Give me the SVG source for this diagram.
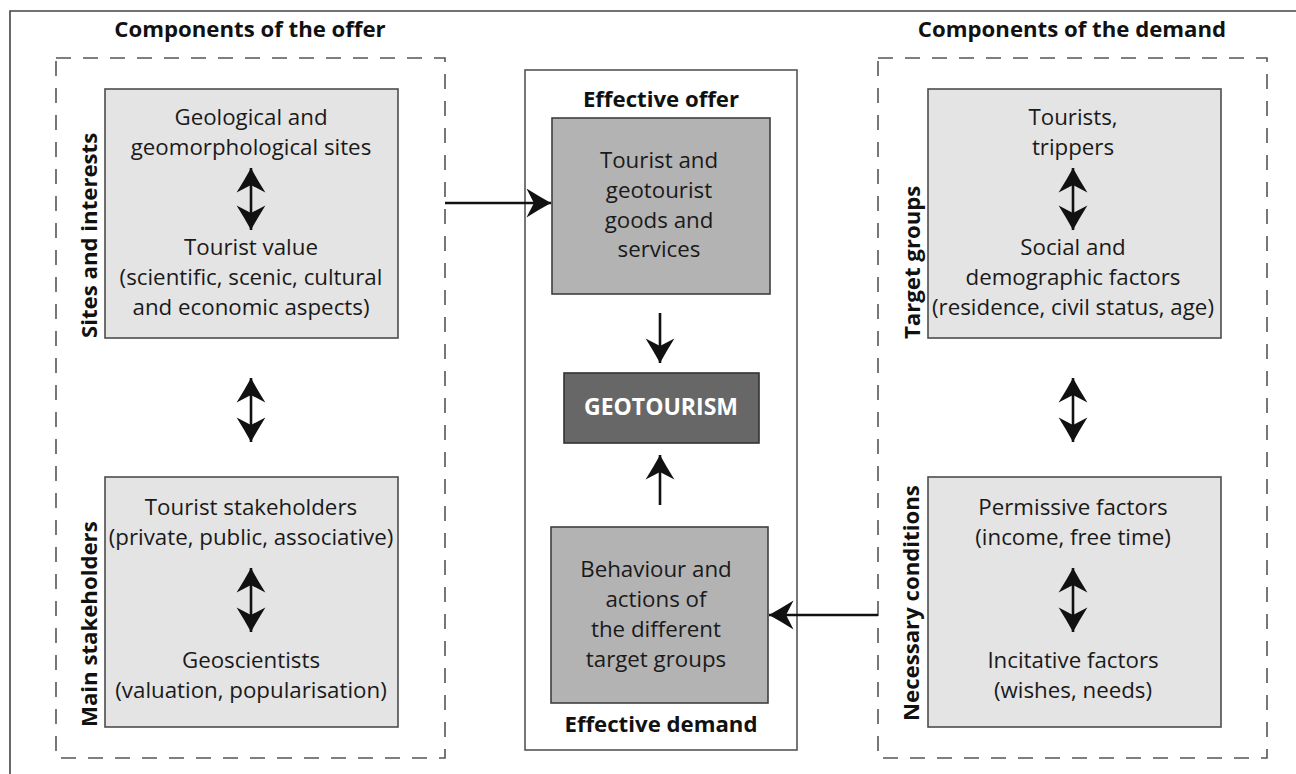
<svg xmlns="http://www.w3.org/2000/svg" width="1296" height="774" viewBox="0 0 1296 774">
  <style>
    .t { font-family: "Open Sans", "Liberation Sans", sans-serif; font-size: 22.3px; fill: #1a1a1a; text-anchor: middle; }
    .b { font-family: "Open Sans", "Liberation Sans", sans-serif; font-size: 22.2px; font-weight: bold; fill: #111; }
    .c { text-anchor: middle; }
    .panel { fill: none; stroke: #555; stroke-width: 1.6; stroke-dasharray: 15 12; }
    .light { fill: #e4e4e4; stroke: #4d4d4d; stroke-width: 1.6; }
    .mid { fill: #b3b3b3; stroke: #3f3f3f; stroke-width: 1.6; }
    .dark { fill: #676767; stroke: #333; stroke-width: 1.6; }
    .wire { fill: none; stroke: #111; stroke-width: 2.6; }
  </style>
  <defs>
    <marker id="head" markerUnits="userSpaceOnUse" markerWidth="32" markerHeight="32" viewBox="-26 -15 30 30" refX="0" refY="0" orient="auto-start-reverse">
      <path d="M0,0 Q-11,-6 -23,-13.5 L-16,0 L-23,13.5 Q-11,6 0,0 Z" fill="#111"/>
    </marker>
  </defs>

  <rect width="1296" height="774" fill="#fff"/>

  <!-- outer frame -->
  <g id="frame">
    <path d="M10,774 V11 H1296" fill="none" stroke="#444" stroke-width="1.6"/>
  </g>

  <!-- offer side -->
  <g id="offer-panel">
    <rect class="panel" x="56" y="58" width="389" height="700"/>
    <text class="b c" x="250" y="37">Components of the offer</text>
  </g>
  <g id="sites">
    <rect class="light" x="105" y="89" width="293" height="249"/>
    <text class="b" transform="translate(97,338) rotate(-90)">Sites and interests</text>
    <text class="t" x="251" y="125">Geological and</text>
    <text class="t" x="251" y="155">geomorphological sites</text>
    <text class="t" x="251" y="255">Tourist value</text>
    <text class="t" x="251" y="285">(scientific, scenic, cultural</text>
    <text class="t" x="251" y="315">and economic aspects)</text>
  </g>
  <g id="stakeholders">
    <rect class="light" x="105" y="477" width="293" height="250"/>
    <text class="b" transform="translate(97,727) rotate(-90)">Main stakeholders</text>
    <text class="t" x="251" y="515">Tourist stakeholders</text>
    <text class="t" x="251" y="545">(private, public, associative)</text>
    <text class="t" x="251" y="668">Geoscientists</text>
    <text class="t" x="251" y="698">(valuation, popularisation)</text>
  </g>

  <!-- centre column -->
  <g id="centre-panel">
    <rect x="525" y="70" width="272" height="680" fill="none" stroke="#555" stroke-width="1.6"/>
    <text class="b c" x="661" y="107">Effective offer</text>
    <text class="b c" x="661" y="732">Effective demand</text>
  </g>
  <g id="effective-offer">
    <rect class="mid" x="552" y="118" width="218" height="176"/>
    <text class="t" x="659" y="168">Tourist and</text>
    <text class="t" x="659" y="198">geotourist</text>
    <text class="t" x="659" y="228">goods and</text>
    <text class="t" x="659" y="257">services</text>
  </g>
  <g id="geotourism">
    <rect class="dark" x="564" y="373" width="195" height="70"/>
    <text class="b c" x="661" y="415" style="fill:#fff;font-size:23px">GEOTOURISM</text>
  </g>
  <g id="effective-demand">
    <rect class="mid" x="551" y="527" width="217" height="176"/>
    <text class="t" x="656" y="577">Behaviour and</text>
    <text class="t" x="656" y="607">actions of</text>
    <text class="t" x="656" y="637">the different</text>
    <text class="t" x="656" y="667">target groups</text>
  </g>

  <!-- demand side -->
  <g id="demand-panel">
    <rect class="panel" x="878" y="58" width="389" height="700"/>
    <text class="b c" x="1072" y="37">Components of the demand</text>
  </g>
  <g id="target-groups">
    <rect class="light" x="928" y="89" width="293" height="249"/>
    <text class="b" transform="translate(920,339) rotate(-90)">Target groups</text>
    <text class="t" x="1073" y="125">Tourists,</text>
    <text class="t" x="1073" y="155">trippers</text>
    <text class="t" x="1073" y="255">Social and</text>
    <text class="t" x="1073" y="285">demographic factors</text>
    <text class="t" x="1073" y="315">(residence, civil status, age)</text>
  </g>
  <g id="conditions">
    <rect class="light" x="928" y="477" width="293" height="250"/>
    <text class="b" transform="translate(919,721) rotate(-90)">Necessary conditions</text>
    <text class="t" x="1073" y="515">Permissive factors</text>
    <text class="t" x="1073" y="545">(income, free time)</text>
    <text class="t" x="1073" y="668">Incitative factors</text>
    <text class="t" x="1073" y="698">(wishes, needs)</text>
  </g>

  <!-- connectors -->
  <g id="connectors" class="wire">
    <path d="M251,168 V230" marker-start="url(#head)" marker-end="url(#head)"/>
    <path d="M251,378 V442" marker-start="url(#head)" marker-end="url(#head)"/>
    <path d="M251,568 V632" marker-start="url(#head)" marker-end="url(#head)"/>
    <path d="M1073,168 V230" marker-start="url(#head)" marker-end="url(#head)"/>
    <path d="M1073,378 V442" marker-start="url(#head)" marker-end="url(#head)"/>
    <path d="M1073,568 V632" marker-start="url(#head)" marker-end="url(#head)"/>
    <path d="M445,203 H551" marker-end="url(#head)"/>
    <path d="M878,615 H769" marker-end="url(#head)"/>
    <path d="M660,313 V363" marker-end="url(#head)"/>
    <path d="M660,505 V455" marker-end="url(#head)"/>
  </g>
</svg>
